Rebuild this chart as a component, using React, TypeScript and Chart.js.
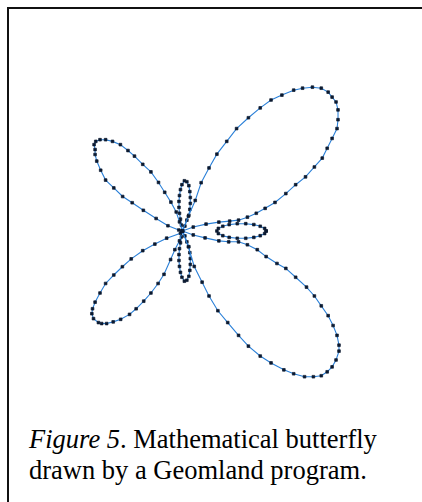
import { useEffect, useRef } from "react";
import { Chart, registerables } from "chart.js";

Chart.register(...registerables);

type Pt = [number, number];

// Sample points of the butterfly, in drawing units measured from the centre
// where all petals meet (x to the right, y upwards).

const upperRightPetal: Pt[] = [
  [0, 0], [6, 15], [13, 31], [19, 49], [27, 64], [35, 78], [45, 91], [55, 104],
  [67, 115], [79, 125], [90, 133], [101, 138], [113, 143], [122, 145], [132, 146],
  [141, 145], [148, 141], [152, 136], [156, 131], [158, 123], [158, 113], [157, 104],
  [152, 94], [147, 84], [142, 74], [134, 65], [125, 55], [115, 47], [105, 38],
  [94, 29], [84, 23], [75, 18], [66, 14], [57, 11], [48, 10], [37, 9], [24, 7],
  [11, 4], [0, 0],
];

const lowerRightPetal: Pt[] = [
  [0, 0], [11, -4], [23, -7], [37, -10], [47, -11], [57, -11], [66, -14], [76, -19],
  [85, -26], [96, -33], [105, -38], [115, -47], [126, -57], [134, -66], [141, -76],
  [148, -86], [153, -96], [157, -106], [159, -116], [159, -122], [156, -131],
  [152, -138], [147, -143], [141, -147], [133, -148], [124, -148], [113, -145],
  [103, -141], [90, -134], [79, -127], [67, -117], [57, -106], [46, -93], [36, -81],
  [27, -66], [20, -52], [12, -36], [6, -16], [0, 0],
];

const upperLeftPetal: Pt[] = [
  [0, 0], [-3, 9.3], [-6.3, 19.3], [-11.7, 29.3], [-18, 39.3], [-24.3, 49.3],
  [-32, 60], [-40.3, 67.7], [-48.7, 76], [-55.3, 81.7], [-63, 87.7], [-71, 91],
  [-78, 92.7], [-83.7, 92.7], [-88, 91], [-89.7, 87.7], [-88.7, 82.7], [-88.7, 77.7],
  [-87, 71], [-83, 61.7], [-78, 51.7], [-69.7, 43.7], [-60.7, 35], [-51, 28.7],
  [-39.7, 21], [-26.7, 12.7], [-14.7, 5.3], [-3.7, 1], [0, 0],
];

const lowerLeftPetal: Pt[] = [
  [0, 0], [-2, -2.3], [-16, -7.3], [-28, -13.3], [-40.3, -20], [-52, -28.3],
  [-61, -36.3], [-69.7, -44.7], [-78, -53.3], [-83.7, -63], [-88.7, -72.3],
  [-91.3, -79], [-92, -84], [-90.3, -89], [-85.3, -93], [-82, -94], [-77, -94],
  [-70.3, -92.3], [-62.7, -89.7], [-53.7, -84.7], [-47, -79], [-39.3, -71.3],
  [-32, -63], [-24.7, -53.3], [-18.7, -44], [-12, -29], [-7.7, -19], [-3, -10],
  [0, 0],
];

const upperSmallPetal: Pt[] = [
  [0, 0], [-1, 6], [-2, 12], [-3, 18], [-3.5, 24], [-3.5, 30], [-3, 36], [-2, 42],
  [-0.5, 47], [2, 51], [4.5, 50], [6.5, 46], [7.5, 40], [8, 34], [8, 28], [7.5, 22],
  [6.5, 16], [4.5, 11], [2.5, 5], [0, 0],
];

const lowerSmallPetal: Pt[] = [
  [0, 0], [-1, -6], [-2, -12], [-3, -18], [-3.5, -24], [-3.5, -30], [-3, -36],
  [-2, -42], [-0.5, -47], [2, -51], [4.5, -50], [6.5, -46], [7.5, -40], [8, -34],
  [8, -28], [7.5, -22], [6.5, -16], [4.5, -11], [2.5, -5], [0, 0],
];

const rightLoop: Pt[] = [
  [85, 0], [83.5, 2.6], [79, 4.8], [72.5, 6.5], [64.3, 7.4], [55.7, 7.4], [47.5, 6.5],
  [41, 4.8], [36.5, 2.6], [35, 0], [36.5, -2.6], [41, -4.8], [47.5, -6.5],
  [55.7, -7.4], [64.3, -7.4], [72.5, -6.5], [79, -4.8], [83.5, -2.6], [85, 0],
];

const curvePieces: Pt[][] = [
  upperRightPetal,
  lowerRightPetal,
  upperLeftPetal,
  lowerLeftPetal,
  upperSmallPetal,
  lowerSmallPetal,
  rightLoop,
];

const LINE_BLUE = "#2b80d8";
const DOT_NAVY = "#0c1a30";

function Butterfly() {
  const canvasRef = useRef<HTMLCanvasElement>(null);

  useEffect(() => {
    const canvas = canvasRef.current;
    if (!canvas) return;
    const chart = new Chart(canvas, {
      type: "scatter",
      data: {
        datasets: curvePieces.map((piece) => ({
          data: piece.map(([x, y]) => ({ x, y })),
          showLine: true,
          tension: 0,
          borderColor: LINE_BLUE,
          borderWidth: 1.1,
          pointStyle: "rect",
          pointRadius: 1.9,
          pointBorderWidth: 0.7,
          pointBackgroundColor: DOT_NAVY,
          pointBorderColor: DOT_NAVY,
          pointHoverRadius: 1.9,
        })),
      },
      options: {
        animation: false,
        responsive: false,
        maintainAspectRatio: false,
        layout: { padding: 0 },
        events: [],
        plugins: {
          legend: { display: false },
          tooltip: { enabled: false },
        },
        scales: {
          x: { type: "linear", min: -142, max: 198, display: false },
          y: { type: "linear", min: -169, max: 171, display: false },
        },
      },
    });
    return () => chart.destroy();
  }, []);

  return (
    <canvas
      ref={canvasRef}
      width={340}
      height={340}
      style={{ position: "absolute", left: 40, top: 60, width: 340, height: 340 }}
    />
  );
}

export default function App() {
  return (
    <div
      style={{
        position: "fixed",
        left: 0,
        top: 0,
        width: 422,
        height: 502,
        background: "#ffffff",
        overflow: "hidden",
      }}
    >
      <div
        style={{
          position: "absolute",
          left: 7,
          top: 7,
          width: 520,
          height: 600,
          borderTop: "2px solid #111",
          borderLeft: "2px solid #111",
        }}
      />
      <Butterfly />
      <div
        style={{
          position: "absolute",
          left: 29,
          top: 424,
          fontFamily: '"Liberation Serif", "Times New Roman", serif',
          fontSize: 26.5,
          lineHeight: "31px",
          color: "#000",
          whiteSpace: "nowrap",
        }}
      >
        <i>Figure 5</i>. Mathematical butterfly
        <br />
        drawn by a Geomland program.
      </div>
    </div>
  );
}
